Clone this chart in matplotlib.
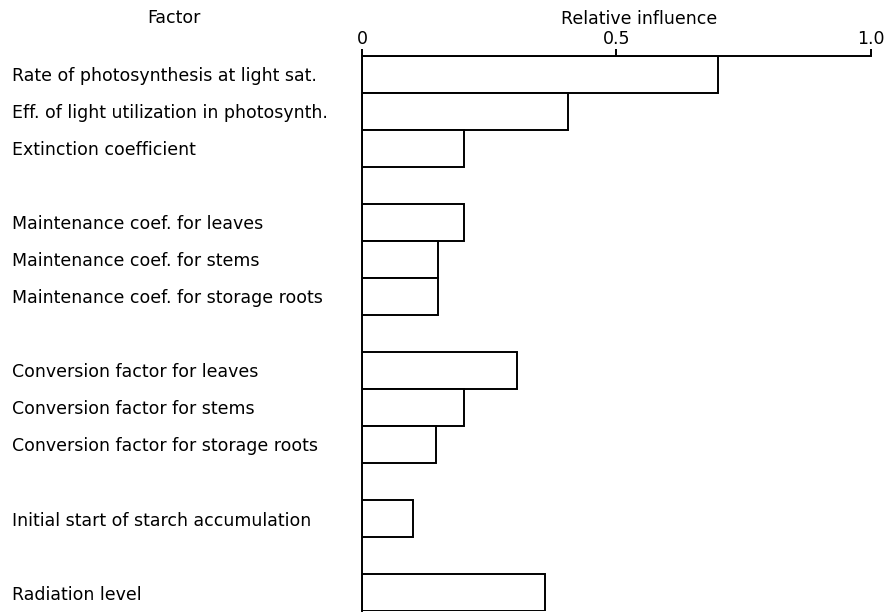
import matplotlib.pyplot as plt

# factors, grouped with blank slots between groups
factors = ['Rate of photosynthesis at light sat.',
           'Eff. of light utilization in photosynth.',
           'Extinction coefficient',
           'Maintenance coef. for leaves',
           'Maintenance coef. for stems',
           'Maintenance coef. for storage roots',
           'Conversion factor for leaves',
           'Conversion factor for stems',
           'Conversion factor for storage roots',
           'Initial start of starch accumulation',
           'Radiation level']
slots = [0, 1, 2, 4, 5, 6, 8, 9, 10, 12, 14]
influence = [0.70, 0.405, 0.20, 0.20, 0.15, 0.15, 0.305, 0.20, 0.145, 0.10, 0.36]
xticks = [0, 0.5, 1.0]
xticklabels = ['0', '0.5', '1.0']

plt.rcParams['font.family'] = 'DejaVu Sans'
fs = 12.5
fig = plt.figure(figsize=(8.85, 6.12), dpi=100)
ax = fig.add_axes([0.409, 0.0016, 0.575, 0.907])

ax.barh(slots, influence, height=1.0, color='white', edgecolor='black', linewidth=1.4)

ax.set_xlim(0, 1.0)
ax.set_ylim(14.5, -0.5)

# axis on top
ax.xaxis.tick_top()
ax.set_xticks(xticks)
ax.set_xticklabels(xticklabels, fontsize=fs)
ax.tick_params(axis='x', direction='out', length=5, width=1.4, pad=1)
ax.set_xlabel('Relative influence', fontsize=fs)
ax.xaxis.set_label_position('top')
ax.xaxis.set_label_coords(0.544, 1.058)

# factor names, left aligned at the figure edge
ax.set_yticks(slots)
ax.set_yticklabels(factors, fontsize=fs)
ax.tick_params(axis='y', length=0, pad=252)
for lab in ax.get_yticklabels():
    lab.set_horizontalalignment('left')

for s in ['right', 'bottom']:
    ax.spines[s].set_visible(False)
for s in ['left', 'top']:
    ax.spines[s].set_linewidth(1.4)

fig.text(174 / 885, 1 - 18 / 612, 'Factor', fontsize=fs, ha='center', va='center')

fig.savefig('out.png', dpi=100)
